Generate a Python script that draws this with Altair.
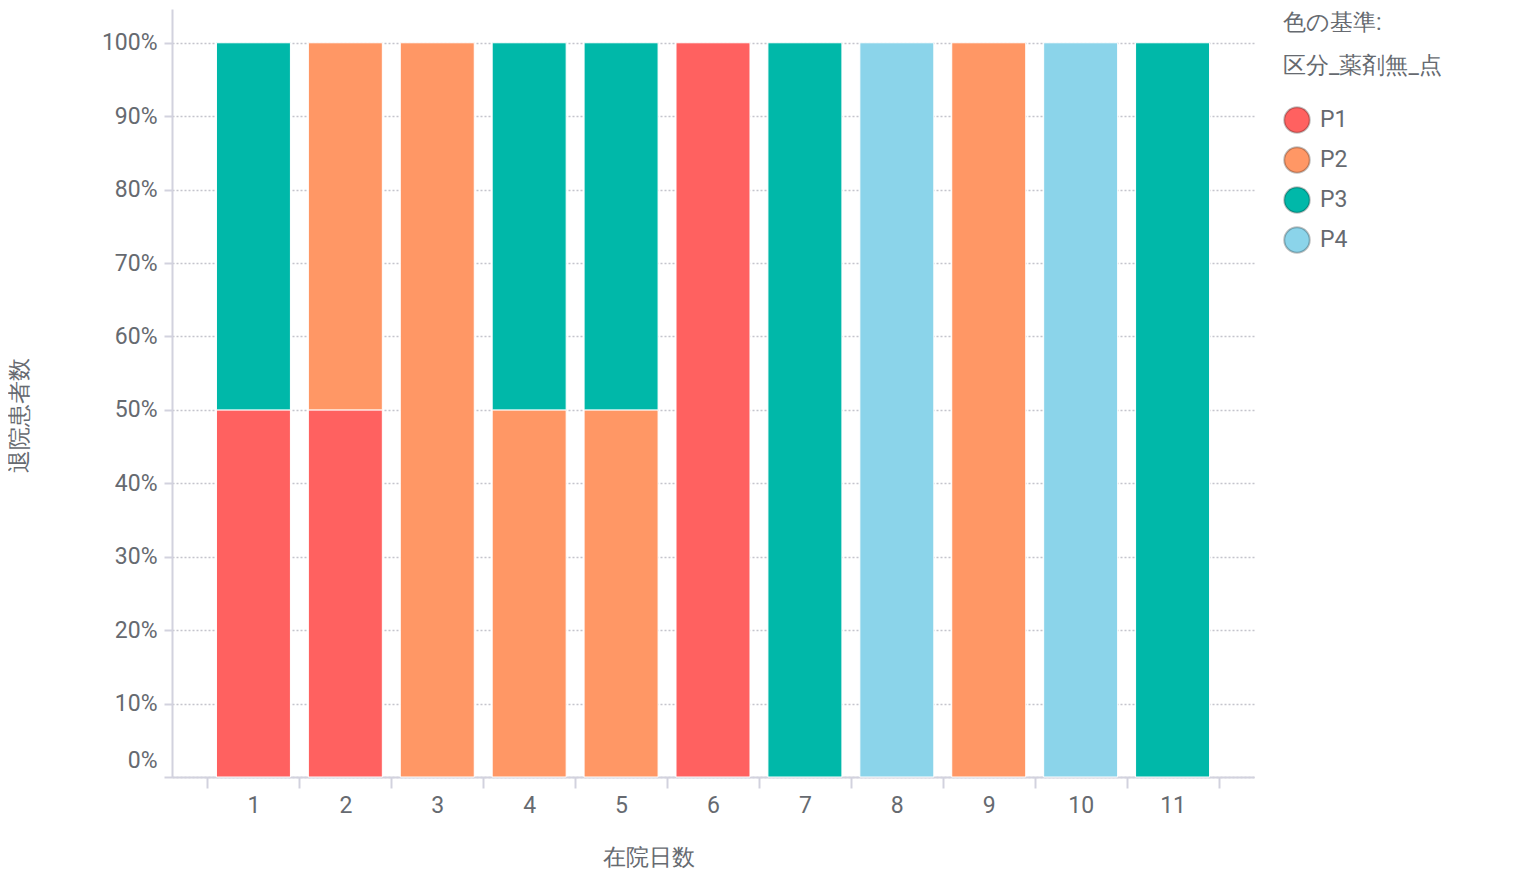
import altair as alt
import pandas as pd

days = [1, 1, 2, 2, 3, 4, 4, 5, 5, 6, 7, 8, 9, 10, 11]
cats = ["P1", "P3", "P1", "P2", "P2", "P2", "P3", "P2", "P3", "P1", "P3", "P4", "P2", "P4", "P3"]
counts = [1, 1, 1, 1, 1, 1, 1, 1, 1, 1, 1, 1, 1, 1, 1]

cat_domain = ["P1", "P2", "P3", "P4"]
cat_colors = ["#FF6160", "#FF9765", "#00B8A9", "#8BD4EA"]
y_ticks = [0, 0.1, 0.2, 0.3, 0.4, 0.5, 0.6, 0.7, 0.8, 0.9, 1.0]

df = pd.DataFrame({"在院日数": days, "区分_薬剤無_点": cats, "退院患者数": counts})
df["order"] = df["区分_薬剤無_点"].map({c: i for i, c in enumerate(cat_domain)})

FONT = "Roboto"
GRAY = "#666a70"
FS = 23

chart = alt.Chart(df).mark_bar(
    width=alt.RelativeBandSize(0.805), stroke="white", strokeWidth=1
).encode(
    x=alt.X("在院日数:O", title="在院日数",
            scale=alt.Scale(paddingInner=0, paddingOuter=0.386),
            axis=alt.Axis(labelAngle=0, tickBand="extent", tickSize=11,
                          labelPadding=6, titleX=476, titleY=69,
                          titleAlign="center")),
    y=alt.Y("sum(退院患者数):Q", stack="normalize", title="退院患者数",
            scale=alt.Scale(domain=[0, 1.046], nice=False, zero=True),
            axis=alt.Axis(format=".0%", values=y_ticks, tickSize=8,
                          labelPadding=7, labelFlush=True, labelFlushOffset=-5,
                          grid=True, titleX=-141, titleY=406,
                          titleAlign="center")),
    color=alt.Color("区分_薬剤無_点:N",
                    scale=alt.Scale(domain=cat_domain, range=cat_colors),
                    legend=alt.Legend(title=["色の基準:", "区分_薬剤無_点"],
                                      orient="none", legendX=1111, legendY=3,
                                      symbolType="circle", symbolSize=650,
                                      symbolStrokeColor="rgba(0,0,0,0.25)",
                                      symbolStrokeWidth=2, symbolOpacity=1,
                                      titleLineHeight=43, titlePadding=28,
                                      rowPadding=6, labelOffset=9, padding=0)),
    order=alt.Order("order:Q", sort="ascending"),
).properties(
    width=1082, height=768,
    autosize=alt.AutoSizeParams(type="none"),
    padding={"left": 164, "top": 1, "right": 260, "bottom": 100},
).configure_view(
    stroke=None
).configure_axis(
    labelFont=FONT, titleFont=FONT, labelFontSize=FS, titleFontSize=FS,
    labelColor=GRAY, titleColor=GRAY, titleFontWeight="normal",
    domainColor="#d2d2de", domainWidth=2, tickColor="#d2d2de", tickWidth=2,
    gridColor="#c4c4cc", gridDash=[2, 2], gridWidth=1.5,
).configure_axisX(grid=False).configure_legend(
    labelFont=FONT, titleFont=FONT, labelFontSize=FS, titleFontSize=FS,
    labelColor=GRAY, titleColor=GRAY, titleFontWeight="normal",
)

chart.save("out.html", embed_options={"renderer": "svg", "actions": False})
